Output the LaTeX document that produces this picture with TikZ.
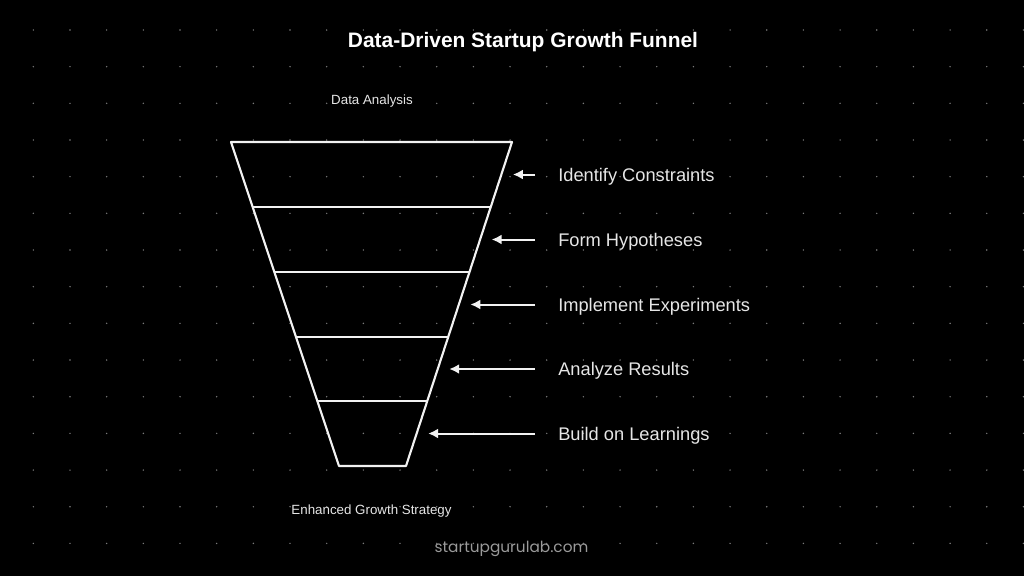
\documentclass[tikz,border=0pt]{standalone}
\usepackage{fontspec}
\setmainfont{Liberation Sans}
\newfontfamily\sitefont{Poppins}
\usetikzlibrary{arrows.meta}
\definecolor{bg}{HTML}{000000}
\definecolor{dotc}{HTML}{7A7A7A}
\definecolor{linec}{HTML}{F2F2F2}
\definecolor{txtc}{HTML}{E6E6E6}
\definecolor{sitec}{HTML}{9A9A9A}
\tikzset{
  funnelline/.style={draw=linec, line width=1.6pt, line join=round},
  pointer/.style={draw=linec, line width=1.5pt, -{Latex[length=7.5pt,width=7.5pt]}},
  steplabel/.style={text=txtc, anchor=west, inner sep=0pt, font=\fontsize{13.7}{16}\selectfont},
  endlabel/.style={text=txtc, inner sep=0pt, font=\fontsize{10}{12}\selectfont},
}
\begin{document}
\begin{tikzpicture}[x=0.75pt, y=-0.75pt]
\fill[bg] (0,0) rectangle (1024,576);
\useasboundingbox (0,0) rectangle (1024,576);
% dot grid
\foreach \i in {0,...,27} {
  \foreach \j in {0,...,14} {
    \fill[dotc] ({33.33+36.67*\i},{30+36.67*\j}) circle (0.8);
  }
}
% title
\node[text=white, font=\bfseries\fontsize{15.7}{18}\selectfont] (title) at (523,42) {Data-Driven Startup Growth Funnel};
\node[endlabel] (top) at (372,101) {Data Analysis};
\node[endlabel] (bottom) at (371.5,511) {Enhanced Growth Strategy};
\node[text=sitec, font=\sitefont\fontsize{11.5}{14}\selectfont] (site) at (511.5,549) {startupgurulab.com};
% funnel
\coordinate (TL) at (231,142);
\coordinate (TR) at (512,142);
\coordinate (BR) at (406,466);
\coordinate (BL) at (339,466);
\draw[funnelline] (TL) -- (TR) -- (BR) -- (BL) -- cycle;
\foreach \y [count=\k] in {207,272,337,401} {
  \coordinate (L\k) at ({231+(\y-142)/3},\y);
  \coordinate (R\k) at ({512-(\y-142)*0.32716},\y);
  \draw[funnelline] (L\k) -- (R\k);
}
% arrows and labels
\foreach \y/\t [count=\k] in {174.5/Identify Constraints,239.5/Form Hypotheses,304.5/Implement Experiments,369/Analyze Results,433.5/Build on Learnings} {
  \coordinate (tail\k) at (535,\y);
  \coordinate (tip\k) at ({512-(\y-142)*0.32716+11.5},\y);
  \draw[pointer] (tail\k) -- (tip\k);
  \node[steplabel] (lab\k) at (558,\y+2) {\t};
}
\end{tikzpicture}
\end{document}
